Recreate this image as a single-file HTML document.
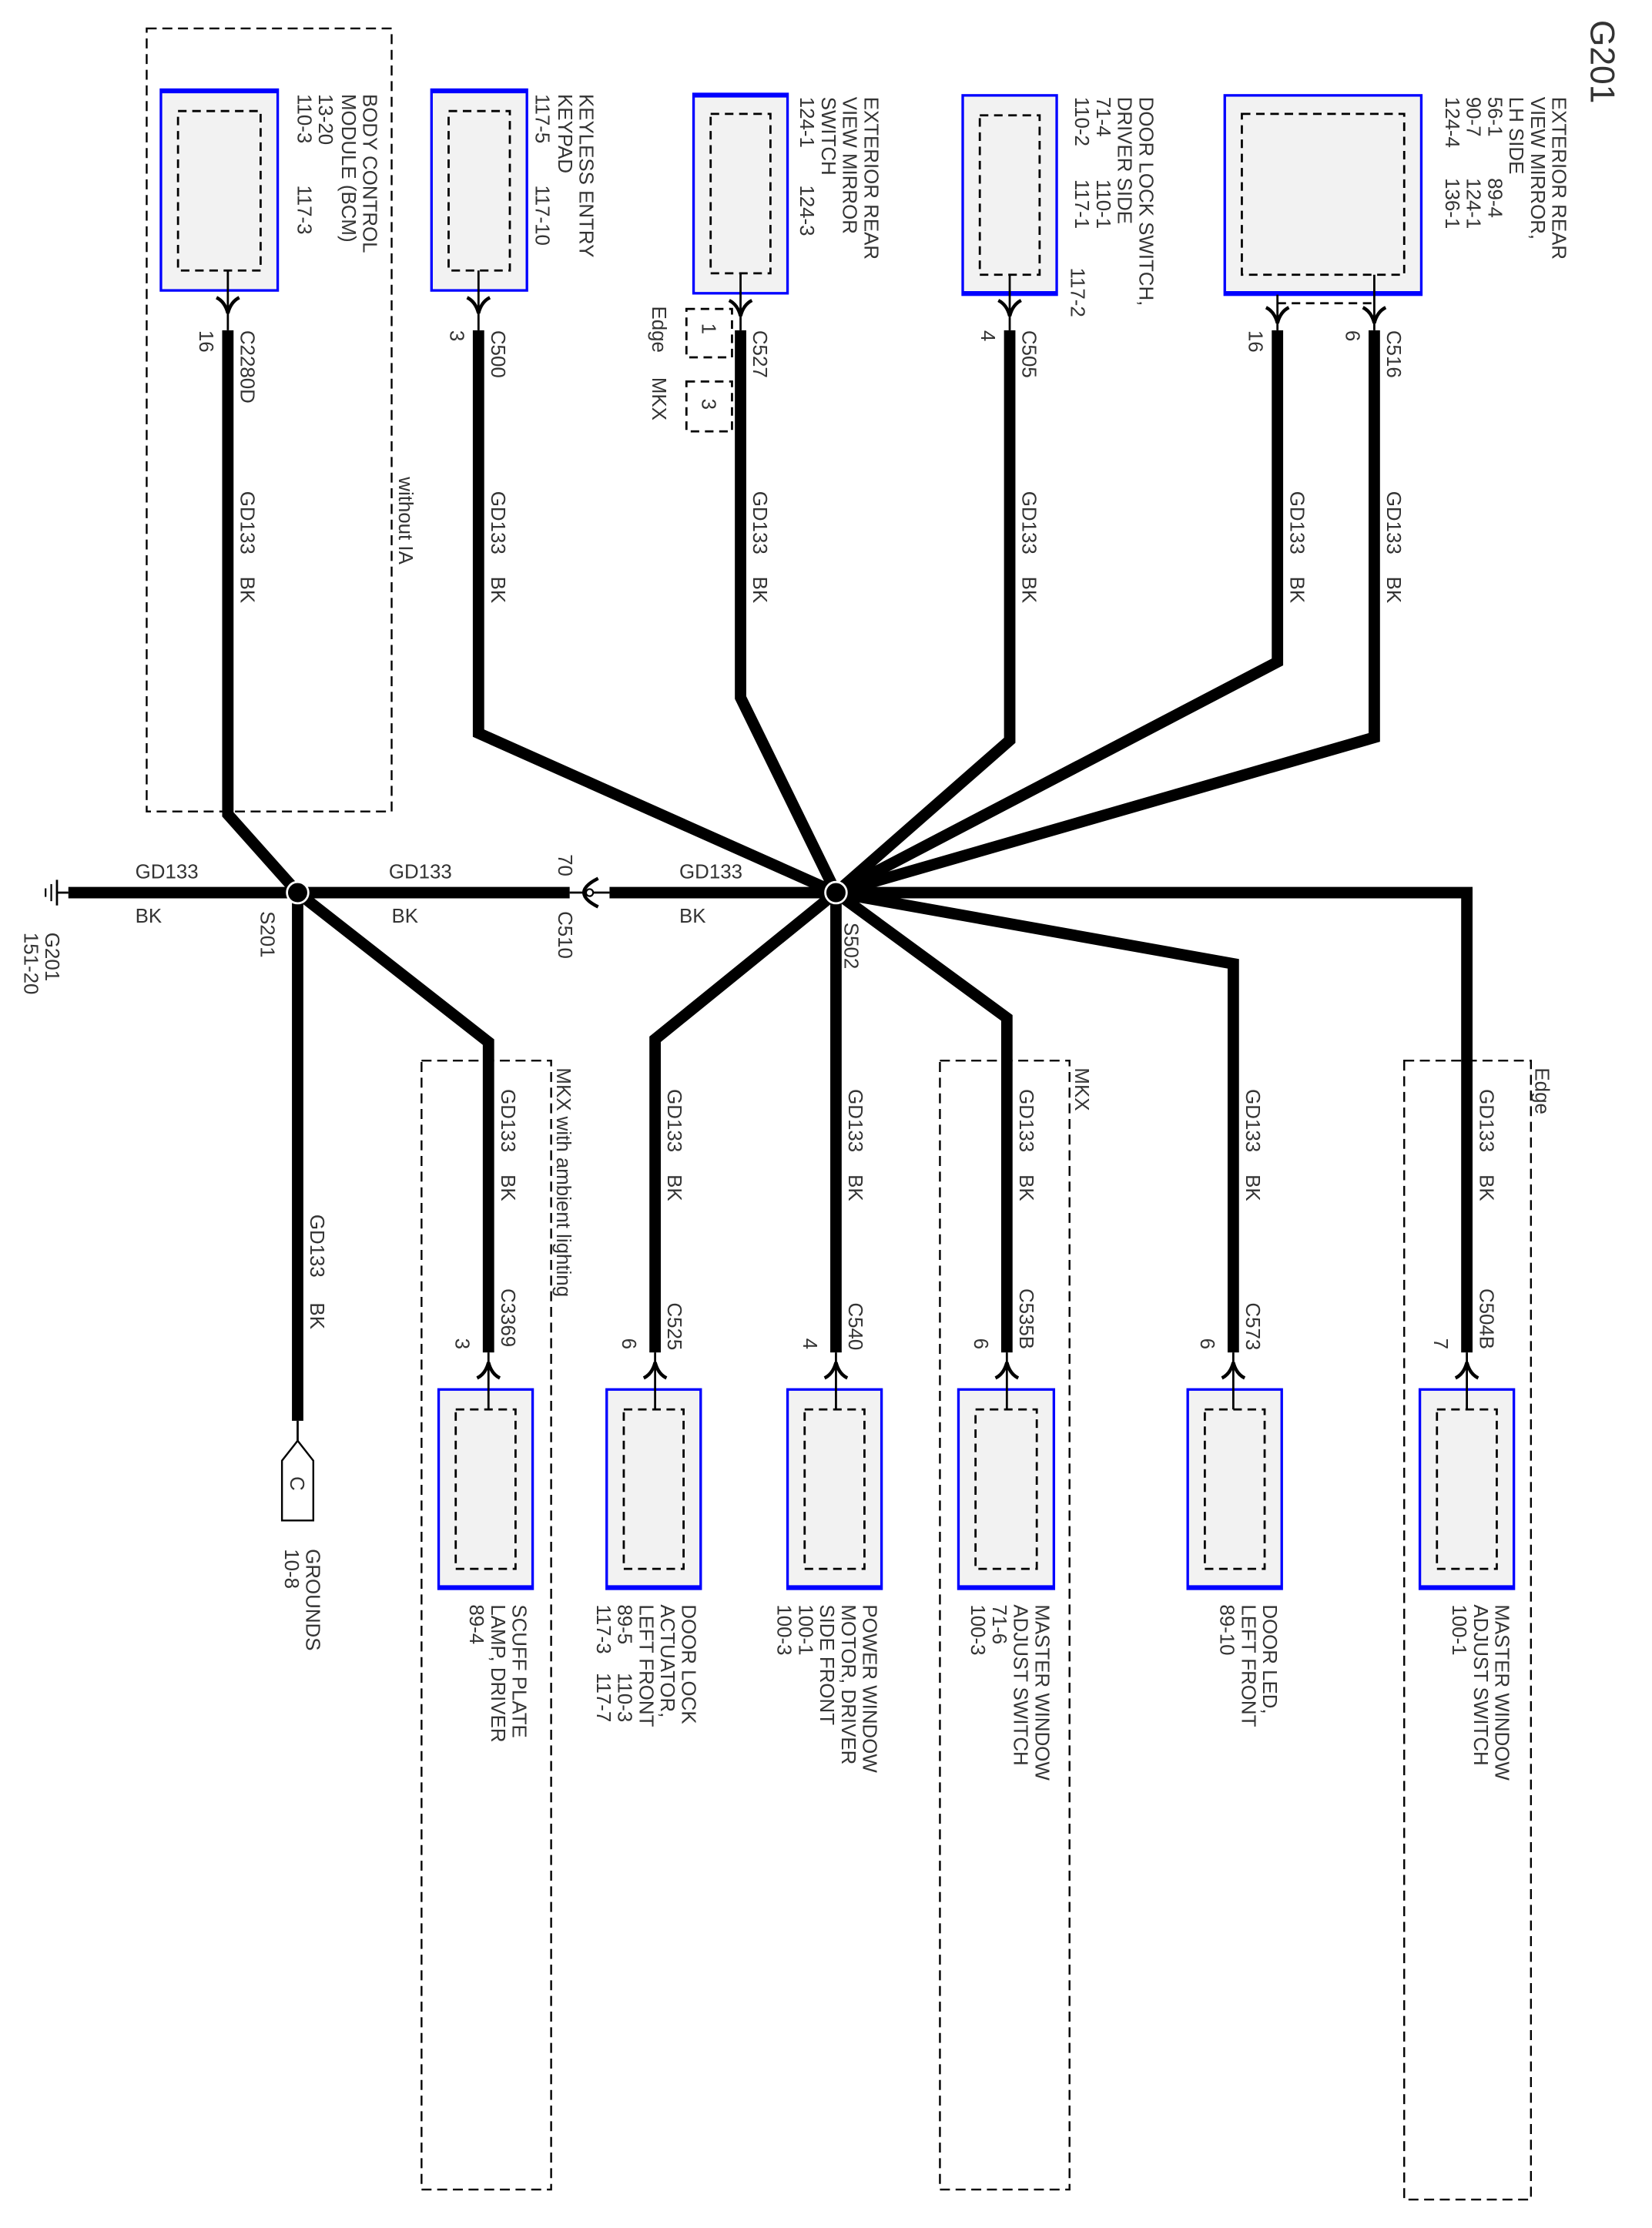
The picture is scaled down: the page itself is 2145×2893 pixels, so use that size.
<!DOCTYPE html>
<html><head><meta charset="utf-8"><style>
html,body{margin:0;padding:0;background:#fff}
svg{display:block}
.t{font-family:"Liberation Sans",sans-serif;font-size:14px;fill:#333}
.w{fill:none;stroke:#000;stroke-width:8;stroke-linejoin:miter}
.tn{fill:none;stroke:#000;stroke-width:1.5}
.d{fill:none;stroke:#000;stroke-width:1.3;stroke-dasharray:7 4}
.bx{fill:#f2f2f2;stroke:#0000ff;stroke-width:1.8}
.ib{fill:none;stroke:#000;stroke-width:1.5;stroke-dasharray:6 4}
.fk{fill:none;stroke:#000;stroke-width:2.4}
</style></head><body>
<svg width="2145" height="2893" viewBox="0 0 1160 1565" preserveAspectRatio="none" xmlns="http://www.w3.org/2000/svg">
<!-- dashed region boxes -->
<rect class="d" x="103" y="20" width="172" height="550"/>
<rect class="d" x="296" y="745" width="91" height="793"/>
<rect class="d" x="660" y="745" width="91" height="793"/>
<rect class="d" x="986" y="745" width="89" height="800"/>
<text class="t" transform="translate(280 335) rotate(90)">without IA</text>
<text class="t" transform="translate(391 750) rotate(90)">MKX with ambient lighting</text>
<text class="t" transform="translate(755 750) rotate(90)">MKX</text>
<text class="t" transform="translate(1078 750) rotate(90)">Edge</text>

<!-- top boxes -->
<rect class="bx" x="113" y="63" width="82" height="141"/><line x1="113" y1="64" x2="195" y2="64" stroke="#00f" stroke-width="3"/>
<rect class="ib" x="125" y="78" width="58" height="112"/>
<rect class="bx" x="303" y="63" width="67" height="141"/><line x1="303" y1="64" x2="370" y2="64" stroke="#00f" stroke-width="3"/>
<rect class="ib" x="315" y="78" width="43" height="112"/>
<rect class="bx" x="487" y="66" width="66" height="140"/><line x1="487" y1="67" x2="553" y2="67" stroke="#00f" stroke-width="3"/>
<rect class="ib" x="499" y="80" width="42" height="112"/>
<rect class="bx" x="676" y="67" width="66" height="140"/><line x1="676" y1="206" x2="742" y2="206" stroke="#00f" stroke-width="3"/>
<rect class="ib" x="688" y="81" width="42" height="112"/>
<rect class="bx" x="860" y="67" width="138" height="140"/><line x1="860" y1="206" x2="998" y2="206" stroke="#00f" stroke-width="3"/>
<rect class="ib" x="872" y="80" width="114" height="113"/>

<!-- top thin leads + forks -->
<g class="tn">
<path d="M160 190V232"/><path d="M336 190V232"/><path d="M520 192V232"/><path d="M709 193V232"/>
<path d="M897 207V232"/><path d="M965 193V232"/>
</g>
<line class="ib" x1="897" y1="213" x2="965" y2="213"/>
<g class="fk">
<path d="M152 209Q158 212 160 220Q162 212 168 209"/>
<path d="M328 209Q334 212 336 220Q338 212 344 209"/>
<path d="M512 211Q518 214 520 222Q522 214 528 211"/>
<path d="M701 211Q707 214 709 222Q711 214 717 211"/>
<path d="M889 216Q895 219 897 227Q899 219 905 216"/>
<path d="M957 216Q963 219 965 227Q967 219 973 216"/>
</g>
<!-- small dashed boxes at C527 -->
<rect class="ib" x="482" y="217" width="32" height="34"/>
<rect class="ib" x="482" y="268" width="32" height="35"/>
<text class="t" transform="translate(493 227) rotate(90)">1</text>
<text class="t" transform="translate(493 280) rotate(90)">3</text>
<text class="t" transform="translate(458 215) rotate(90)">Edge</text>
<text class="t" transform="translate(458 265) rotate(90)">MKX</text>

<!-- wires -->
<polyline class="w" points="160,232 160,572 209,627"/>
<polyline class="w" points="336,232 336,515 587,627"/>
<polyline class="w" points="520,232 520,490 587,627"/>
<polyline class="w" points="709,232 709,520 587,627"/>
<polyline class="w" points="897,232 897,465 587,627"/>
<polyline class="w" points="965,232 965,518 587,627"/>
<polyline class="w" points="48,627 400,627"/>
<polyline class="w" points="428,627 1030,627 1030,950"/>
<polyline class="w" points="587,627 866,677 866,950"/>
<polyline class="w" points="587,627 707,715 707,950"/>
<polyline class="w" points="587,627 587,950"/>
<polyline class="w" points="587,627 460,730 460,950"/>
<polyline class="w" points="209,627 343,732 343,950"/>
<polyline class="w" points="209,627 209,998"/>
<!-- C510 -->
<line class="tn" x1="400" y1="627" x2="428" y2="627"/>
<path class="fk" d="M420 617Q410 622 410 627Q410 632 420 637"/>
<circle cx="414" cy="627" r="2.5" fill="#fff" stroke="#000" stroke-width="1.2"/>
<!-- ground -->
<line class="tn" x1="40" y1="627" x2="48" y2="627"/>
<line x1="40" y1="618" x2="40" y2="636" stroke="#000" stroke-width="1.5"/>
<line x1="36" y1="621" x2="36" y2="633" stroke="#000" stroke-width="1.2"/>
<line x1="32" y1="624" x2="32" y2="630" stroke="#000" stroke-width="1.2"/>
<!-- splices -->
<circle cx="209" cy="627" r="7.5" fill="#000" stroke="#fff" stroke-width="1.5"/>
<circle cx="587" cy="627" r="7.5" fill="#000" stroke="#fff" stroke-width="1.5"/>
<!-- ground connector C -->
<path d="M209 998V1012" class="tn"/>
<path d="M198 1026L209 1012L220 1026V1068H198Z" fill="#fff" stroke="#000" stroke-width="1.3"/>
<text class="t" transform="translate(204 1037) rotate(90)">C</text>

<!-- bottom boxes -->
<g>
<rect class="bx" x="308" y="976" width="66" height="140"/><line x1="308" y1="1115" x2="374" y2="1115" stroke="#00f" stroke-width="3"/>
<rect class="ib" x="320" y="990" width="42" height="112"/>
<rect class="bx" x="426" y="976" width="66" height="140"/><line x1="426" y1="1115" x2="492" y2="1115" stroke="#00f" stroke-width="3"/>
<rect class="ib" x="438" y="990" width="42" height="112"/>
<rect class="bx" x="553" y="976" width="66" height="140"/><line x1="553" y1="1115" x2="619" y2="1115" stroke="#00f" stroke-width="3"/>
<rect class="ib" x="565" y="990" width="42" height="112"/>
<rect class="bx" x="673" y="976" width="67" height="140"/><line x1="673" y1="1115" x2="740" y2="1115" stroke="#00f" stroke-width="3"/>
<rect class="ib" x="685" y="990" width="43" height="112"/>
<rect class="bx" x="834" y="976" width="66" height="140"/><line x1="834" y1="1115" x2="900" y2="1115" stroke="#00f" stroke-width="3"/>
<rect class="ib" x="846" y="990" width="42" height="112"/>
<rect class="bx" x="997" y="976" width="66" height="140"/><line x1="997" y1="1115" x2="1063" y2="1115" stroke="#00f" stroke-width="3"/>
<rect class="ib" x="1009" y="990" width="42" height="112"/>
</g>
<g class="tn">
<path d="M343 950V990"/><path d="M460 950V990"/><path d="M587 950V990"/><path d="M707 950V990"/><path d="M866 950V990"/><path d="M1030 950V990"/>
</g>
<g class="fk">
<path d="M335 968Q341 965 343 957Q345 965 351 968"/>
<path d="M452 968Q458 965 460 957Q462 965 468 968"/>
<path d="M579 968Q585 965 587 957Q589 965 595 968"/>
<path d="M699 968Q705 965 707 957Q709 965 715 968"/>
<path d="M858 968Q864 965 866 957Q868 965 874 968"/>
<path d="M1022 968Q1028 965 1030 957Q1032 965 1038 968"/>
</g>

<!-- top labels -->
<g class="t">
<text transform="translate(1117 14) rotate(90)" style="font-size:24px">G201</text>
<text transform="translate(255 66) rotate(90)">BODY CONTROL</text>
<text transform="translate(240 66) rotate(90)">MODULE (BCM)</text>
<text transform="translate(224 66) rotate(90)">13-20</text>
<text transform="translate(209 66) rotate(90)">110-3</text>
<text transform="translate(209 130) rotate(90)">117-3</text>
<text transform="translate(407 66) rotate(90)">KEYLESS ENTRY</text>
<text transform="translate(392 66) rotate(90)">KEYPAD</text>
<text transform="translate(376 66) rotate(90)">117-5</text>
<text transform="translate(376 130) rotate(90)">117-10</text>
<text transform="translate(607 68) rotate(90)">EXTERIOR REAR</text>
<text transform="translate(592 68) rotate(90)">VIEW MIRROR</text>
<text transform="translate(577 68) rotate(90)">SWITCH</text>
<text transform="translate(562 68) rotate(90)">124-1</text>
<text transform="translate(562 130) rotate(90)">124-3</text>
<text transform="translate(800 68) rotate(90)">DOOR LOCK SWITCH,</text>
<text transform="translate(785 68) rotate(90)">DRIVER SIDE</text>
<text transform="translate(770 68) rotate(90)">71-4</text>
<text transform="translate(770 126) rotate(90)">110-1</text>
<text transform="translate(755 68) rotate(90)">110-2</text>
<text transform="translate(755 126) rotate(90)">117-1</text>
<text transform="translate(752 188) rotate(90)">117-2</text>
<text transform="translate(1090 68) rotate(90)">EXTERIOR REAR</text>
<text transform="translate(1075 68) rotate(90)">VIEW MIRROR,</text>
<text transform="translate(1060 68) rotate(90)">LH SIDE</text>
<text transform="translate(1045 68) rotate(90)">56-1</text>
<text transform="translate(1045 125) rotate(90)">89-4</text>
<text transform="translate(1030 68) rotate(90)">90-7</text>
<text transform="translate(1030 125) rotate(90)">124-1</text>
<text transform="translate(1015 68) rotate(90)">124-4</text>
<text transform="translate(1015 125) rotate(90)">136-1</text>
<!-- top connectors -->
<text transform="translate(169 232) rotate(90)">C2280D</text>
<text transform="translate(140 232) rotate(90)">16</text>
<text transform="translate(345 232) rotate(90)">C500</text>
<text transform="translate(316 232) rotate(90)">3</text>
<text transform="translate(529 232) rotate(90)">C527</text>
<text transform="translate(718 232) rotate(90)">C505</text>
<text transform="translate(689 232) rotate(90)">4</text>
<text transform="translate(877 232) rotate(90)">16</text>
<text transform="translate(974 232) rotate(90)">C516</text>
<text transform="translate(945 232) rotate(90)">6</text>
<!-- top wire labels -->
<text transform="translate(169 345) rotate(90)">GD133</text><text transform="translate(169 405) rotate(90)">BK</text>
<text transform="translate(345 345) rotate(90)">GD133</text><text transform="translate(345 405) rotate(90)">BK</text>
<text transform="translate(529 345) rotate(90)">GD133</text><text transform="translate(529 405) rotate(90)">BK</text>
<text transform="translate(718 345) rotate(90)">GD133</text><text transform="translate(718 405) rotate(90)">BK</text>
<text transform="translate(906 345) rotate(90)">GD133</text><text transform="translate(906 405) rotate(90)">BK</text>
<text transform="translate(974 345) rotate(90)">GD133</text><text transform="translate(974 405) rotate(90)">BK</text>
<!-- horizontal -->
<text x="95" y="617">GD133</text><text x="95" y="648">BK</text>
<text x="273" y="617">GD133</text><text x="275" y="648">BK</text>
<text x="477" y="617">GD133</text><text x="477" y="648">BK</text>
<text transform="translate(183 640) rotate(90)">S201</text>
<text transform="translate(392 600) rotate(90)">70</text>
<text transform="translate(392 640) rotate(90)">C510</text>
<text transform="translate(593 648) rotate(90)">S502</text>
<text transform="translate(32 655) rotate(90)">G201</text>
<text transform="translate(17 655) rotate(90)">151-20</text>
<!-- bottom wire labels -->
<text transform="translate(218 853) rotate(90)">GD133</text><text transform="translate(218 915) rotate(90)">BK</text>
<text transform="translate(352 765) rotate(90)">GD133</text><text transform="translate(352 825) rotate(90)">BK</text>
<text transform="translate(469 765) rotate(90)">GD133</text><text transform="translate(469 825) rotate(90)">BK</text>
<text transform="translate(596 765) rotate(90)">GD133</text><text transform="translate(596 825) rotate(90)">BK</text>
<text transform="translate(716 765) rotate(90)">GD133</text><text transform="translate(716 825) rotate(90)">BK</text>
<text transform="translate(875 765) rotate(90)">GD133</text><text transform="translate(875 825) rotate(90)">BK</text>
<text transform="translate(1039 765) rotate(90)">GD133</text><text transform="translate(1039 825) rotate(90)">BK</text>
<!-- bottom connectors -->
<text transform="translate(352 905) rotate(90)">C3369</text><text transform="translate(320 940) rotate(90)">3</text>
<text transform="translate(469 915) rotate(90)">C525</text><text transform="translate(437 940) rotate(90)">6</text>
<text transform="translate(596 915) rotate(90)">C540</text><text transform="translate(564 940) rotate(90)">4</text>
<text transform="translate(716 905) rotate(90)">C535B</text><text transform="translate(684 940) rotate(90)">6</text>
<text transform="translate(875 915) rotate(90)">C573</text><text transform="translate(843 940) rotate(90)">6</text>
<text transform="translate(1039 905) rotate(90)">C504B</text><text transform="translate(1007 940) rotate(90)">7</text>
<!-- bottom component labels -->
<text transform="translate(215 1088) rotate(90)">GROUNDS</text>
<text transform="translate(200 1088) rotate(90)">10-8</text>
<text transform="translate(360 1127) rotate(90)">SCUFF PLATE</text>
<text transform="translate(345 1127) rotate(90)">LAMP, DRIVER</text>
<text transform="translate(330 1127) rotate(90)">89-4</text>
<text transform="translate(479 1127) rotate(90)">DOOR LOCK</text>
<text transform="translate(464 1127) rotate(90)">ACTUATOR,</text>
<text transform="translate(449 1127) rotate(90)">LEFT FRONT</text>
<text transform="translate(434 1127) rotate(90)">89-5</text>
<text transform="translate(434 1175) rotate(90)">110-3</text>
<text transform="translate(419 1127) rotate(90)">117-3</text>
<text transform="translate(419 1175) rotate(90)">117-7</text>
<text transform="translate(606 1127) rotate(90)">POWER WINDOW</text>
<text transform="translate(591 1127) rotate(90)">MOTOR, DRIVER</text>
<text transform="translate(576 1127) rotate(90)">SIDE FRONT</text>
<text transform="translate(561 1127) rotate(90)">100-1</text>
<text transform="translate(546 1127) rotate(90)">100-3</text>
<text transform="translate(727 1127) rotate(90)">MASTER WINDOW</text>
<text transform="translate(712 1127) rotate(90)">ADJUST SWITCH</text>
<text transform="translate(697 1127) rotate(90)">71-6</text>
<text transform="translate(682 1127) rotate(90)">100-3</text>
<text transform="translate(887 1127) rotate(90)">DOOR LED,</text>
<text transform="translate(872 1127) rotate(90)">LEFT FRONT</text>
<text transform="translate(857 1127) rotate(90)">89-10</text>
<text transform="translate(1050 1127) rotate(90)">MASTER WINDOW</text>
<text transform="translate(1035 1127) rotate(90)">ADJUST SWITCH</text>
<text transform="translate(1020 1127) rotate(90)">100-1</text>
</g>
</svg>
</body></html>
